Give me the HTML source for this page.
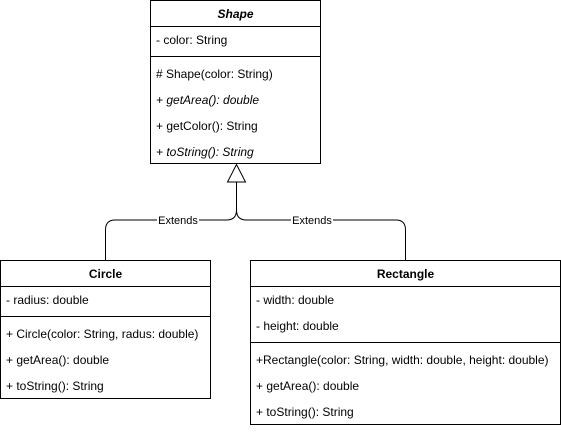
<!DOCTYPE html>
<html><head><style>body{margin:0;background:#fff}svg text{font-family:"Liberation Sans",Arial,sans-serif;font-size:12px;fill:#000}</style></head>
<body>
<svg width="561" height="428" viewBox="0 0 561 428" xmlns="http://www.w3.org/2000/svg">
<g fill="#fff" stroke="#000" stroke-width="1">
<rect x="150.5" y="0.5" width="170" height="163"/>
<line x1="150.5" y1="26.5" x2="320.5" y2="26.5"/>
<line x1="150.5" y1="56.5" x2="320.5" y2="56.5"/>
<rect x="0.5" y="260.5" width="210" height="138"/>
<line x1="0.5" y1="286.5" x2="210.5" y2="286.5"/>
<line x1="0.5" y1="316.5" x2="210.5" y2="316.5"/>
<rect x="250.5" y="260.5" width="310" height="164"/>
<line x1="250.5" y1="286.5" x2="560.5" y2="286.5"/>
<line x1="250.5" y1="342.5" x2="560.5" y2="342.5"/>
</g>
<g fill="none" stroke="#000" stroke-width="1">
<path d="M236.5 182 V210 Q236.5 220 226.5 220 H115 Q105.5 220 105.5 230 V260"/>
<path d="M236.5 210 Q236.5 220 246.5 220 H396 Q405.5 220 405.5 230 V260"/>
<path d="M236.5 164.5 L227.5 182 H245.5 Z" fill="#fff"/>
</g>
<rect x="157" y="213" width="42" height="13" fill="#fff"/>
<rect x="291" y="213" width="42" height="13" fill="#fff"/>
<text x="178" y="224" text-anchor="middle" style="font-size:11px">Extends</text>
<text x="312" y="224" text-anchor="middle" style="font-size:11px">Extends</text>
<text x="235.5" y="18" text-anchor="middle" font-weight="bold" font-style="italic">Shape</text>
<text x="156" y="44">- color: String</text>
<text x="156" y="78"># Shape(color: String)</text>
<text x="156" y="104" font-style="italic">+ getArea(): double</text>
<text x="156" y="130">+ getColor(): String</text>
<text x="156" y="156" font-style="italic">+ toString(): String</text>
<text x="105.5" y="278" text-anchor="middle" font-weight="bold">Circle</text>
<text x="6" y="304">- radius: double</text>
<text x="6" y="338">+ Circle(color: String, radus: double)</text>
<text x="6" y="364">+ getArea(): double</text>
<text x="6" y="390">+ toString(): String</text>
<text x="405.5" y="278" text-anchor="middle" font-weight="bold">Rectangle</text>
<text x="256" y="304">- width: double</text>
<text x="256" y="330">- height: double</text>
<text x="256" y="364">+Rectangle(color: String, width: double, height: double)</text>
<text x="256" y="390">+ getArea(): double</text>
<text x="256" y="416">+ toString(): String</text>
</svg>
</body></html>
